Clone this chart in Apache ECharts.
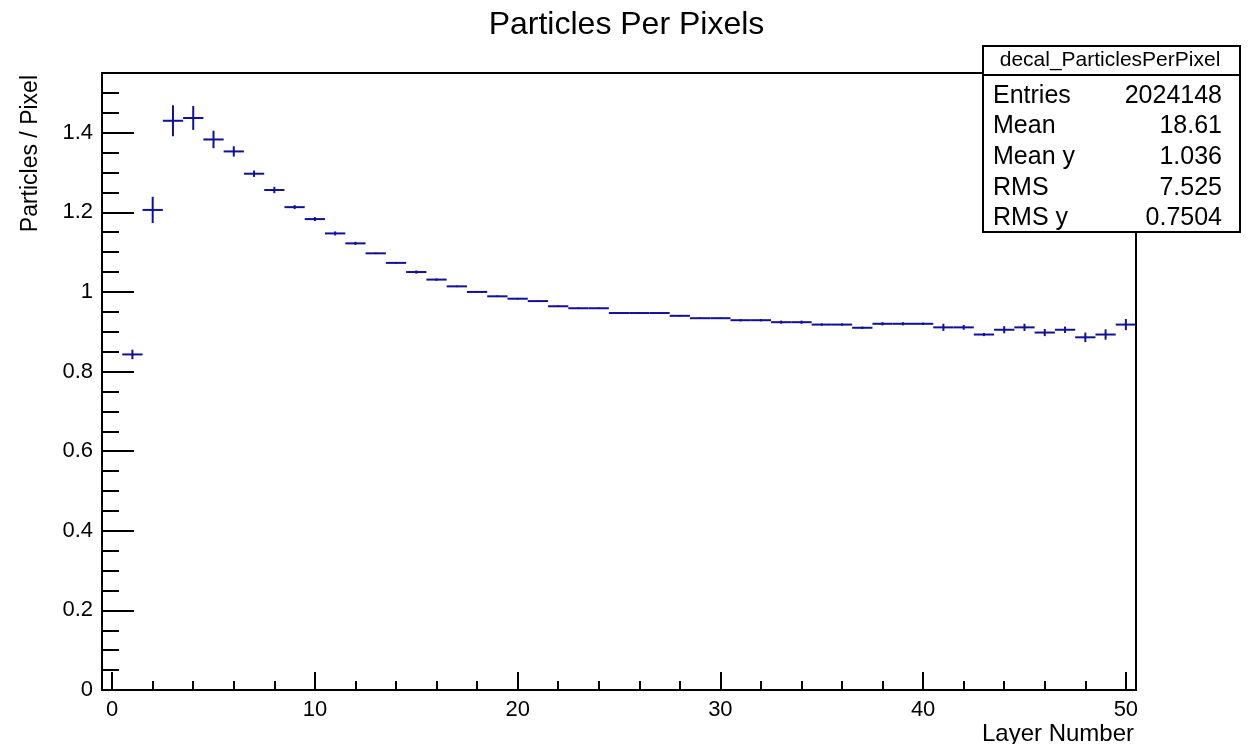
<!DOCTYPE html>
<html>
<head>
<meta charset="utf-8">
<script src="https://cdn.jsdelivr.net/npm/echarts@6/dist/echarts.min.js"></script>
<style>
  html, body { margin: 0; padding: 0; background: #fff; }
  #chart { width: 1253px; height: 744px; }
</style>
</head>
<body>
<div id="chart"></div>
<script>
// layer number (bin centre), bin width is 1
const layers = [1, 2, 3, 4, 5, 6, 7, 8, 9, 10,
  11, 12, 13, 14, 15, 16, 17, 18, 19, 20,
  21, 22, 23, 24, 25, 26, 27, 28, 29, 30,
  31, 32, 33, 34, 35, 36, 37, 38, 39, 40,
  41, 42, 43, 44, 45, 46, 47, 48, 49, 50]

// mean particles per pixel for each layer
const particlesPerPixel = [0.843, 1.206, 1.430, 1.437, 1.383, 1.353, 1.297, 1.256, 1.213, 1.183,
  1.147, 1.122, 1.097, 1.073, 1.050, 1.031, 1.014, 1.000, 0.989, 0.983,
  0.977, 0.964, 0.959, 0.959, 0.947, 0.947, 0.947, 0.940, 0.934, 0.934,
  0.929, 0.929, 0.924, 0.924, 0.918, 0.918, 0.910, 0.920, 0.920, 0.920,
  0.911, 0.911, 0.893, 0.905, 0.911, 0.898, 0.905, 0.886, 0.893, 0.918]

// error on the mean
const errors = [0.012, 0.033, 0.039, 0.030, 0.022, 0.013, 0.008, 0.008, 0.005, 0.005,
  0.005, 0.004, 0.002, 0.002, 0.004, 0.003, 0.002, 0.002, 0.002, 0.002,
  0.002, 0.002, 0.002, 0.002, 0.002, 0.002, 0.002, 0.002, 0.002, 0.002,
  0.003, 0.003, 0.004, 0.004, 0.003, 0.003, 0.003, 0.004, 0.004, 0.003,
  0.009, 0.006, 0.004, 0.009, 0.009, 0.009, 0.008, 0.012, 0.013, 0.014]

const xMajorTicks = [0, 10, 20, 30, 40, 50]
const xMinorTicks = [2, 4, 6, 8, 12, 14, 16, 18, 22, 24, 26, 28, 32, 34, 36, 38, 42, 44, 46, 48]
const yMajorTicks = [0, 0.2, 0.4, 0.6, 0.8, 1, 1.2, 1.4]
const yMinorTicks = [0.05, 0.1, 0.15, 0.25, 0.3, 0.35, 0.45, 0.5, 0.55, 0.65, 0.7, 0.75,
  0.85, 0.9, 0.95, 1.05, 1.1, 1.15, 1.25, 1.3, 1.35, 1.45, 1.5]

// stats box
const statsTitle = 'decal_ParticlesPerPixel'
const statLabels = ['Entries', 'Mean', 'Mean y', 'RMS', 'RMS y']
const statValues = ['2024148', '18.61', '1.036', '7.525', '0.7504']

const FONT = '"Liberation Sans", Arial, Helvetica, sans-serif'
const BLUE = '#10109c'

const points = layers.map((x, i) => [x, particlesPerPixel[i], errors[i]])

const statsTexts = []
statLabels.forEach((label, i) => {
  const y = 96 + i * 30.6
  statsTexts.push({
    type: 'text', z: 101, x: 993, y: y,
    style: { text: label, font: '25px ' + FONT, fill: '#000', align: 'left', verticalAlign: 'middle' }
  })
  statsTexts.push({
    type: 'text', z: 101, x: 1222, y: y,
    style: { text: statValues[i], font: '25px ' + FONT, fill: '#000', align: 'right', verticalAlign: 'middle' }
  })
})

const chart = echarts.init(document.getElementById('chart'))
const xBase = { type: 'value', min: -0.5, max: 50.5, position: 'bottom', splitLine: { show: false } }
const yBase = { type: 'value', min: 0, max: 1.55, position: 'left', splitLine: { show: false } }

chart.setOption({
  animation: false,
  title: {
    text: 'Particles Per Pixels',
    left: 'center',
    top: 4,
    textStyle: { fontFamily: FONT, fontSize: 32, fontWeight: 'normal', color: '#000' }
  },
  grid: {
    left: 102, right: 117, top: 73, bottom: 54,
    show: true, borderColor: '#000', borderWidth: 2, backgroundColor: '#fff'
  },
  xAxis: [
    Object.assign({}, xBase, {
      axisLine: { onZero: false, lineStyle: { color: '#000', width: 2 } },
      axisTick: { inside: true, length: 18, customValues: xMajorTicks, lineStyle: { color: '#000', width: 2 } },
      axisLabel: { customValues: xMajorTicks, margin: 9, fontFamily: FONT, fontSize: 22, color: '#000' }
    }),
    Object.assign({}, xBase, {
      axisLine: { show: false, onZero: false },
      axisTick: { inside: true, length: 9, customValues: xMinorTicks, lineStyle: { color: '#000', width: 2 } },
      axisLabel: { show: false }
    })
  ],
  yAxis: [
    Object.assign({}, yBase, {
      axisLine: { onZero: false, lineStyle: { color: '#000', width: 2 } },
      axisTick: { inside: true, length: 32, customValues: yMajorTicks, lineStyle: { color: '#000', width: 2 } },
      axisLabel: { customValues: yMajorTicks, margin: 9, fontFamily: FONT, fontSize: 22, color: '#000' }
    }),
    Object.assign({}, yBase, {
      axisLine: { show: false, onZero: false },
      axisTick: { inside: true, length: 17, customValues: yMinorTicks, lineStyle: { color: '#000', width: 2 } },
      axisLabel: { show: false }
    })
  ],
  series: [{
    type: 'custom',
    xAxisIndex: 0,
    yAxisIndex: 0,
    data: points,
    clip: true,
    renderItem: function (params, api) {
      const x = api.value(0)
      const y = api.value(1)
      const e = api.value(2)
      const left = api.coord([x - 0.5, y])
      const right = api.coord([x + 0.5, y])
      const lo = api.coord([x, y - e])
      const hi = api.coord([x, y + e])
      const style = { stroke: BLUE, lineWidth: 2 }
      return {
        type: 'group',
        children: [
          { type: 'line', shape: { x1: left[0], y1: left[1], x2: right[0], y2: right[1] }, style: style },
          { type: 'line', shape: { x1: lo[0], y1: lo[1], x2: hi[0], y2: hi[1] }, style: style }
        ]
      }
    }
  }],
  graphic: [
    {
      type: 'text', z: 100,
      x: 31, y: 75, rotation: Math.PI / 2,
      style: { text: 'Particles / Pixel', font: '23px ' + FONT, fill: '#000', align: 'right', verticalAlign: 'middle' }
    },
    {
      type: 'text', z: 100,
      x: 1134, y: 734,
      style: { text: 'Layer Number', font: '24px ' + FONT, fill: '#000', align: 'right', verticalAlign: 'middle' }
    },
    {
      type: 'rect', z: 100, left: 982, top: 45,
      shape: { width: 257, height: 186 },
      style: { fill: '#fff', stroke: '#000', lineWidth: 2 }
    },
    {
      type: 'line', z: 101,
      shape: { x1: 982, y1: 75, x2: 1239, y2: 75 },
      style: { stroke: '#000', lineWidth: 2 }
    },
    {
      type: 'text', z: 101, x: 1110, y: 60,
      style: { text: statsTitle, font: '21px ' + FONT, fill: '#000', align: 'center', verticalAlign: 'middle' }
    }
  ].concat(statsTexts)
})
</script>
</body>
</html>
